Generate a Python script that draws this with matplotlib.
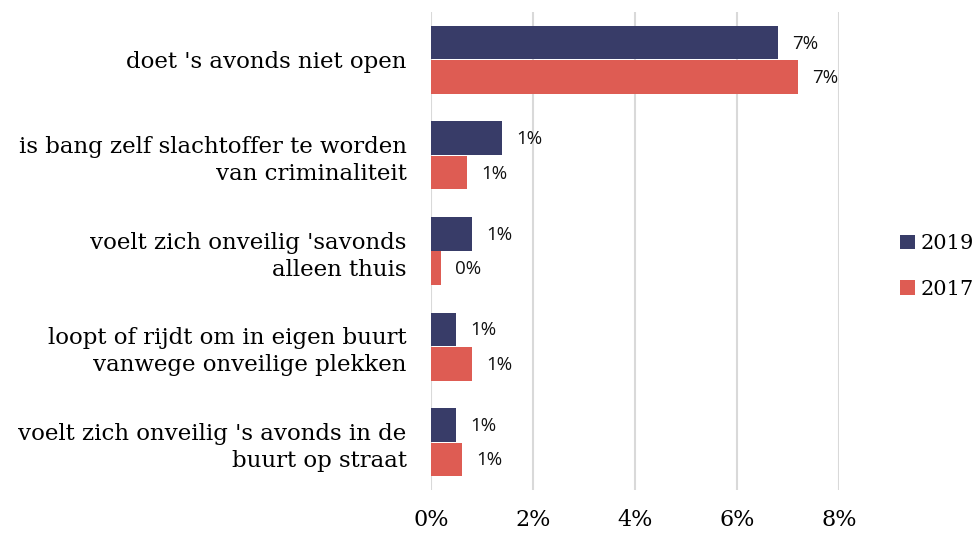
import matplotlib.pyplot as plt
import numpy as np

categories = ["doet 's avonds niet open",
              "is bang zelf slachtoffer te worden\nvan criminaliteit",
              "voelt zich onveilig 'savonds\nalleen thuis",
              "loopt of rijdt om in eigen buurt\nvanwege onveilige plekken",
              "voelt zich onveilig 's avonds in de\nbuurt op straat"]
vals_2019 = [6.8, 1.4, 0.8, 0.5, 0.5]
vals_2017 = [7.2, 0.7, 0.2, 0.8, 0.6]
labels_2019 = ["7%", "1%", "1%", "1%", "1%"]
labels_2017 = ["7%", "1%", "0%", "1%", "1%"]
ticks = [0, 2, 4, 6, 8]

navy = '#383C68'
red = '#DE5C53'

fig = plt.figure(figsize=(9.78, 5.33), dpi=100)
ax = fig.add_axes([431 / 978, 1 - 490 / 533, (839 - 431) / 978, (490 - 12) / 533])

y = np.arange(len(categories))
h = 0.35
ax.barh(y - 0.18, vals_2019, height=h, color=navy, label='2019', zorder=3)
ax.barh(y + 0.18, vals_2017, height=h, color=red, label='2017', zorder=3)

for yi, v, lab in zip(y, vals_2019, labels_2019):
    ax.text(v + 0.28, yi - 0.17, lab, va='center', ha='left', fontsize=13.5,
            family='Open Sans', color='#111111')
for yi, v, lab in zip(y, vals_2017, labels_2017):
    ax.text(v + 0.28, yi + 0.19, lab, va='center', ha='left', fontsize=13.5,
            family='Open Sans', color='#111111')

ax.set_xlim(0, 8)
ax.set_ylim(len(categories) - 0.5, -0.5)
ax.set_xticks(ticks)
ax.set_xticklabels([f'{t}%' for t in ticks], family='DejaVu Serif', fontsize=16)
ax.set_yticks(y)
ax.set_yticklabels(categories, family='DejaVu Serif', fontsize=16.5, linespacing=1.3)
ax.tick_params(length=0, pad=17.5, axis='y')
ax.tick_params(length=0, pad=14, axis='x')
ax.grid(axis='x', color='#D9D9D9', linewidth=1.5, zorder=0)
for s in ax.spines.values():
    s.set_visible(False)

leg = ax.legend(loc='center left', bbox_to_anchor=(900 / 978, 0.5), bbox_transform=fig.transFigure,
                frameon=False, prop={'family': 'DejaVu Serif', 'size': 15},
                borderaxespad=0, borderpad=0,
                handlelength=0.7, handleheight=0.7, handletextpad=0.3, labelspacing=1.25)

fig.savefig('out.png', dpi=100)
